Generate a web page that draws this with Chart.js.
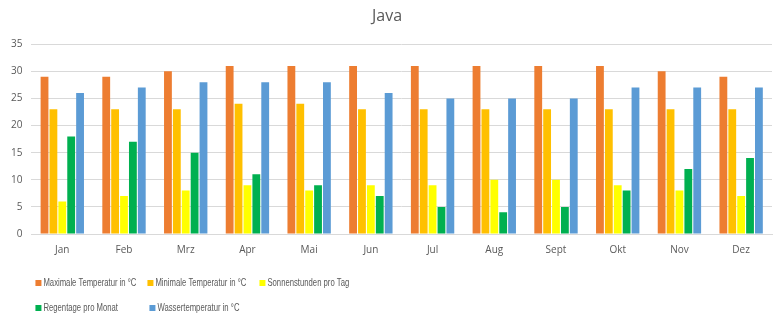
<!DOCTYPE html>
<html>
<head>
<meta charset="utf-8">
<script src="https://cdn.jsdelivr.net/npm/chart.js@4"></script>
<style>
  html, body { margin: 0; padding: 0; background: #fff; }
  #wrap { width: 781px; height: 332px; position: relative; }
</style>
</head>
<body>
<div id="wrap"><canvas id="c" width="781" height="332"></canvas></div>
<script>
// Klimadaten Java
const months = ['Jan', 'Feb', 'Mrz', 'Apr', 'Mai', 'Jun', 'Jul', 'Aug', 'Sept', 'Okt', 'Nov', 'Dez'];
const maxTemp = [29, 29, 30, 31, 31, 31, 31, 31, 31, 31, 30, 29];
const minTemp = [23, 23, 23, 24, 24, 23, 23, 23, 23, 23, 23, 23];
const sunHours = [6, 7, 8, 9, 8, 9, 9, 10, 10, 9, 8, 7];
const rainDays = [18, 17, 15, 11, 9, 7, 5, 4, 5, 8, 12, 14];
const waterTemp = [26, 27, 28, 28, 28, 26, 25, 25, 25, 27, 27, 27];
const yTicks = [0, 5, 10, 15, 20, 25, 30, 35];

const seriesNames = ['Maximale Temperatur in °C', 'Minimale Temperatur in °C', 'Sonnenstunden pro Tag', 'Regentage pro Monat', 'Wassertemperatur in °C'];
const seriesColors = ['#ED7D31', '#FFC000', '#FFFF00', '#00B050', '#5B9BD5'];
const seriesData = [maxTemp, minTemp, sunHours, rainDays, waterTemp];

const textColor = '#595959';
const fontFamily = '"Open Sans", "Liberation Sans", sans-serif';

// Legend drawn as a fixed grid of columns below the plot, with condensed text
const gridLegend = {
  id: 'gridLegend',
  afterDraw(chart) {
    const ctx = chart.ctx;
    const cols = 3, colWidth = 112, rowHeight = 25, squeeze = 0.67;
    const x0 = chart.chartArea.left + 4;
    const y0 = 283;
    ctx.save();
    ctx.font = '11.5px "Liberation Sans", sans-serif';
    ctx.textBaseline = 'middle';
    chart.data.datasets.forEach((ds, i) => {
      const col = i % cols, row = Math.floor(i / cols);
      const x = x0 + col * colWidth + (row > 0 && col > 0 ? 2 : 0);
      const y = y0 + row * rowHeight;
      ctx.fillStyle = ds.backgroundColor;
      ctx.fillRect(x, y - 3, 6, 6);
      ctx.save();
      ctx.translate(x + 8, y);
      ctx.scale(squeeze, 1);
      ctx.fillStyle = textColor;
      ctx.fillText(ds.label, 0, 0);
      ctx.restore();
    });
    ctx.restore();
  }
};

new Chart(document.getElementById('c'), {
  type: 'bar',
  data: {
    labels: months,
    datasets: seriesNames.map((name, i) => ({
      label: name,
      data: seriesData[i],
      backgroundColor: seriesColors[i],
      borderWidth: 0,
      categoryPercentage: 0.72,
      barPercentage: 0.88
    }))
  },
  options: {
    responsive: false,
    animation: false,
    devicePixelRatio: 1,
    layout: { padding: { left: 2, right: 9, top: 0, bottom: 74 } },
    plugins: {
      legend: { display: false },
      tooltip: { enabled: false },
      title: {
        display: true,
        text: 'Java',
        color: textColor,
        font: { family: fontFamily, size: 16, weight: 'normal' },
        padding: { top: 7, bottom: 18 }
      }
    },
    scales: {
      x: {
        grid: { display: false },
        border: { display: true, color: '#d9d9d9' },
        ticks: { color: textColor, font: { family: fontFamily, size: 10 }, padding: 2, maxRotation: 0 }
      },
      y: {
        min: 0,
        max: 35,
        afterBuildTicks(axis) { axis.ticks = yTicks.map(v => ({ value: v })); },
        grid: { color: '#d9d9d9', drawTicks: false },
        border: { display: false },
        ticks: { color: textColor, font: { family: fontFamily, size: 10 }, padding: 9 }
      }
    }
  },
  plugins: [gridLegend]
});
</script>
</body>
</html>
